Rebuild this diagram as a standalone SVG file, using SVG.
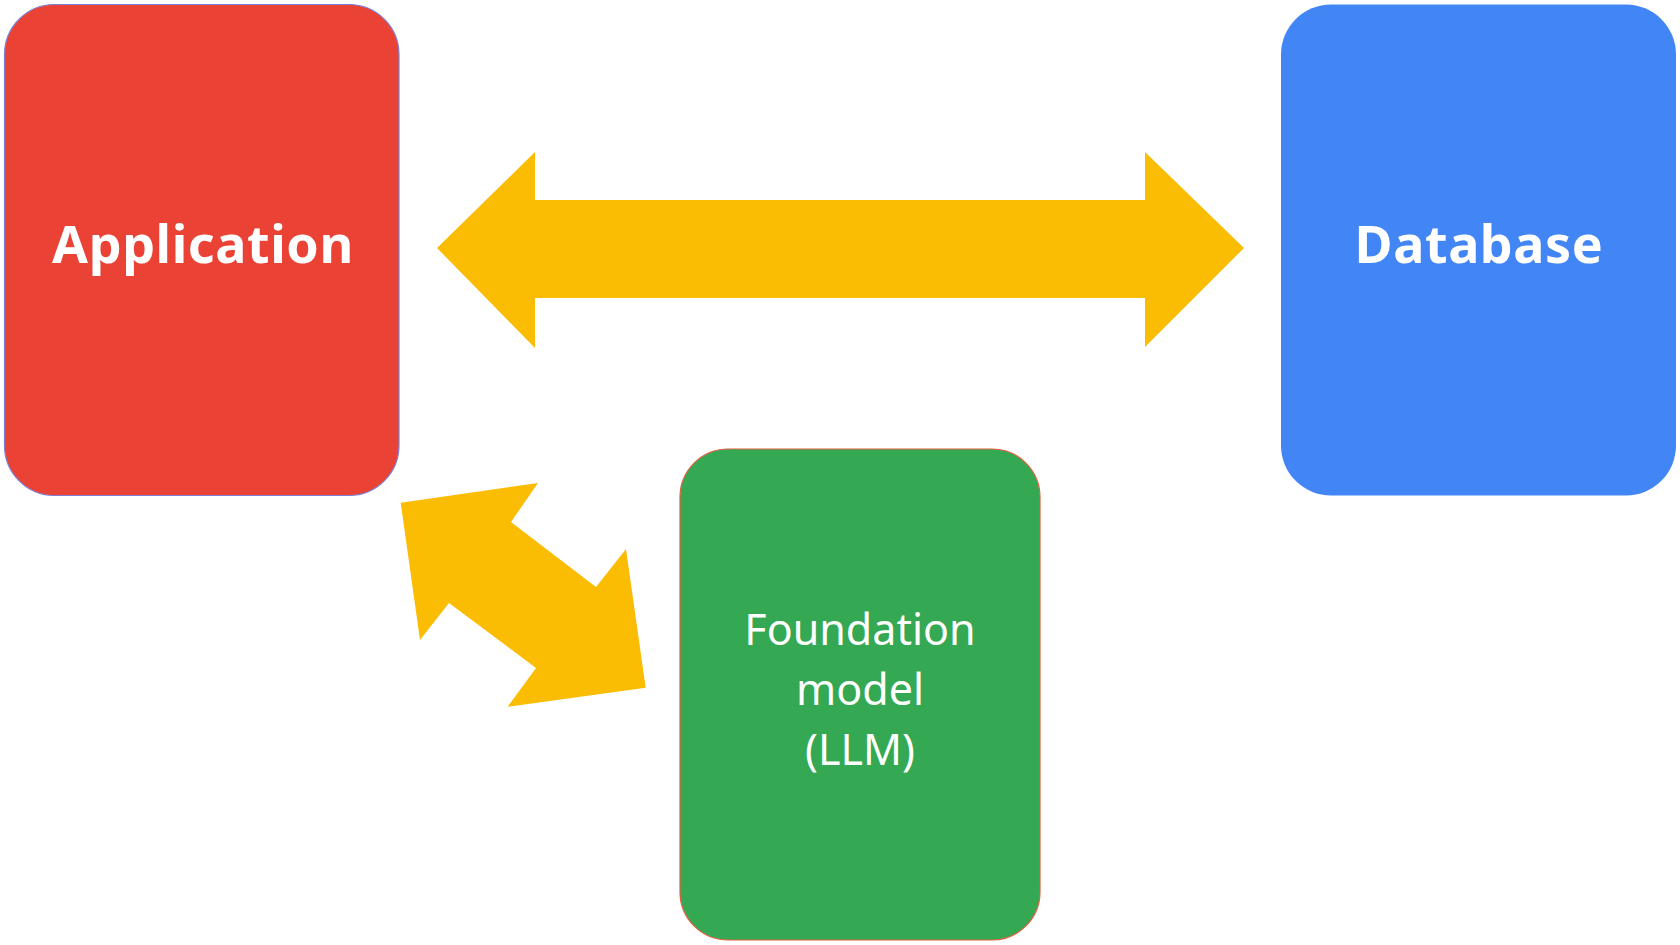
<svg xmlns="http://www.w3.org/2000/svg" width="1680" height="945" viewBox="0 0 1680 945">
  <style>
    .lbl { fill: #ffffff; text-anchor: middle; font-family: "Noto Sans", "Liberation Sans", Arial, sans-serif; }
    .bold { font-weight: 700; font-size: 52px; letter-spacing: 0.6px; }
    .reg { font-weight: 400; font-size: 43px; letter-spacing: 0px; }
    .arrow { fill: #FBBC04; }
  </style>
  <rect width="1680" height="945" fill="#ffffff"/>
  <g id="connectors">
    <polygon class="arrow" points="437,248 535,152 535,200 1145,200 1145,152 1244,248 1145,347 1145,298 535,298 535,348"/>
    <polygon class="arrow" points="400.7,502.7 538,483 511,522 596,587 626,549 645.7,687.7 507.7,706.7 536,668 449,603 420,640"/>
  </g>
  <g id="application">
    <rect x="4.5" y="4.5" width="394.5" height="491" rx="50" ry="50" fill="#EA4335" stroke="#7B80D4" stroke-width="1.2"/>
    <text class="lbl bold" x="203" y="263">Application</text>
  </g>
  <g id="database">
    <rect x="1281" y="4.5" width="395" height="491" rx="50" ry="50" fill="#4285F4"/>
    <text class="lbl bold" x="1479" y="263">Database</text>
  </g>
  <g id="foundation-model">
    <rect x="680" y="449" width="360" height="491" rx="48" ry="48" fill="#34A853" stroke="#E0603F" stroke-width="1.2"/>
    <text class="lbl reg" x="860" y="645">Foundation</text>
    <text class="lbl reg" x="860" y="705">model</text>
    <text class="lbl reg" x="860" y="765">(LLM)</text>
  </g>
</svg>
